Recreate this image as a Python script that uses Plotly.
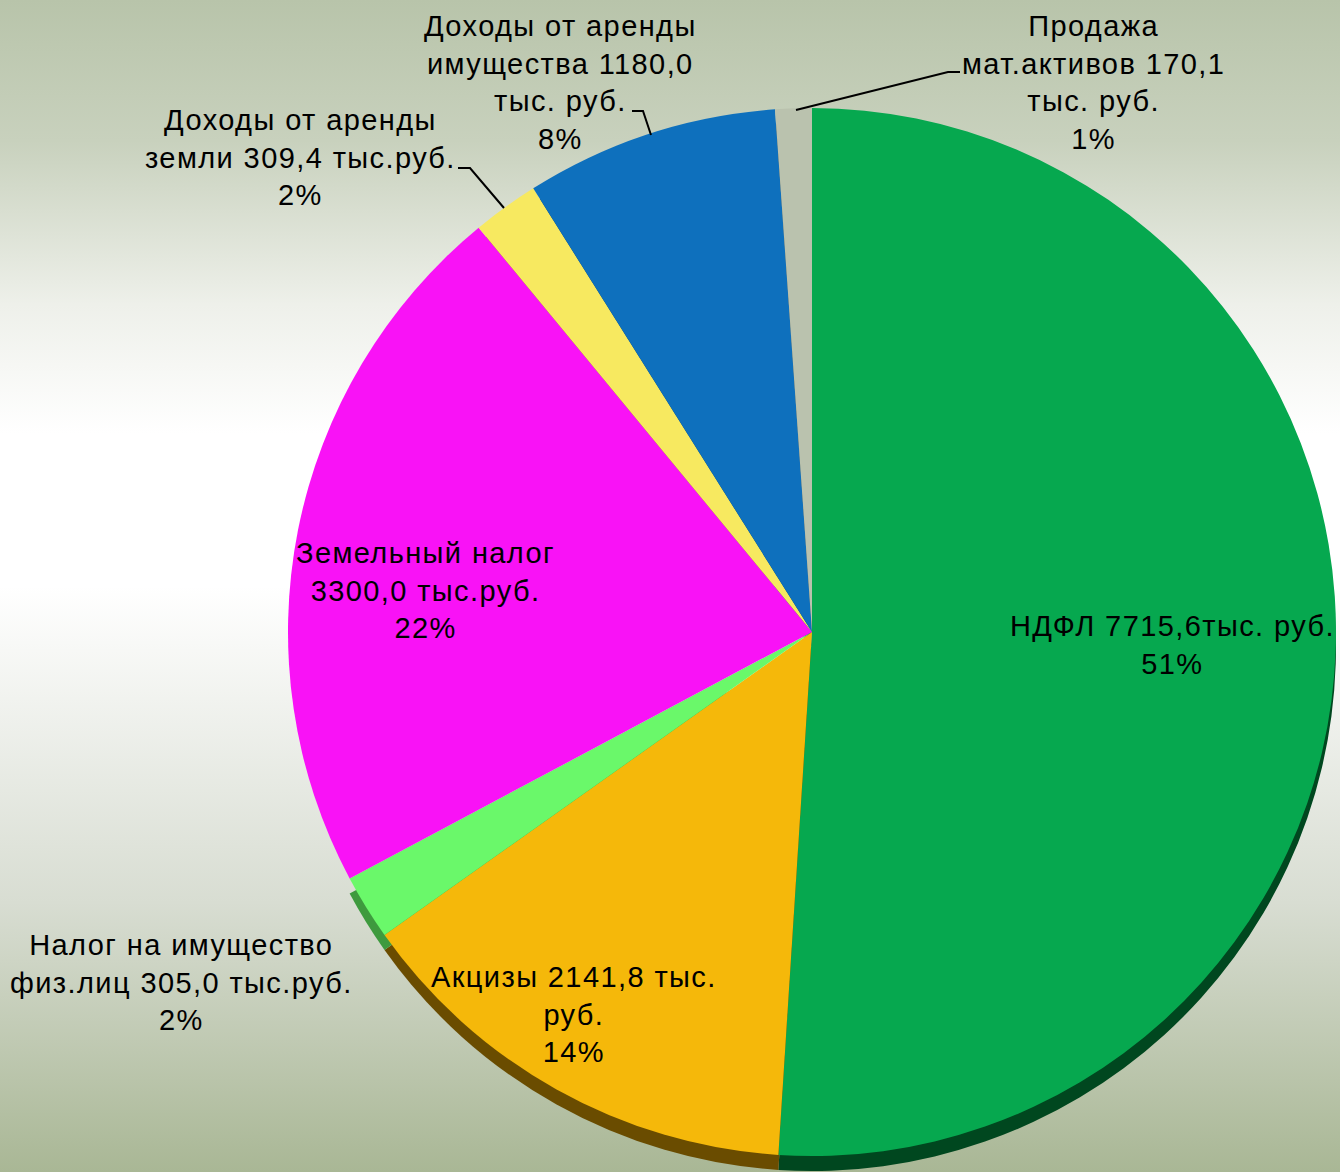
import base64
import plotly.graph_objects as go

W, H = 1340, 1172

# ---------------- data ----------------
categories = [
    "НДФЛ",
    "Акцизы",
    "Налог на имущество физ.лиц",
    "Земельный налог",
    "Доходы от аренды земли",
    "Доходы от аренды имущества",
    "Продажа мат.активов",
]
values = [7715.6, 2141.8, 305.0, 3300.0, 309.4, 1180.0, 170.1]
label_templates = [
    "НДФЛ {v}тыс. руб.<br>{p}%",
    "Акцизы {v} тыс.<br>руб.<br>{p}%",
    "Налог на имущество<br>физ.лиц {v} тыс.руб.<br>{p}%",
    "Земельный налог<br>{v} тыс.руб.<br>{p}%",
    "Доходы от аренды<br>земли {v} тыс.руб.<br>{p}%",
    "Доходы от аренды<br>имущества {v}<br>тыс. руб.<br>{p}%",
    "Продажа<br>мат.активов {v}<br>тыс. руб.<br>{p}%",
]
colors = ["#06A84F", "#F5B80A", "#6AF86A", "#F912F6", "#F7E960", "#0E70BD", "#BAC2AE"]
rim_colors = ["#00471F", "#6A4C00", "#3E9A3E", "rgba(0,0,0,0)", "#7A7020", "#063A66", "#6A7060"]

# label centres (pixels) and leader lines (pixels)
label_pos = [(1172, 645), (574, 1014), (182, 982), (425, 590), (300, 157), (560, 82), (1093, 82)]
leaders = [
    None, None, None, None,
    [(458, 168), (470, 168), (504, 208)],
    [(632, 111), (643, 111), (651, 135)],
    [(796, 110), (948, 72), (960, 72)],
]


def px(x):
    return x / W


def py(y):
    return 1 - y / H


total = sum(values)
texts = []
for v, t in zip(values, label_templates):
    vs = f"{v:.1f}".replace(".", ",")
    p = round(v / total * 100)
    body = t.format(v=vs, p=p)
    lines = body.split("<br>")
    texts.append("<br>".join(f'<span style="letter-spacing:1.4px">{ln}</span>' for ln in lines))

# pie geometry (pixels)
cx, cy, r, depth = 812, 632, 524, 15
dom_x = [px(cx - r), min(1.0, px(cx + r))]
dom_y = [py(cy + r), py(cy - r)]
rim_y = [max(0.0, py(cy + r + depth)), py(cy - r + depth)]

fig = go.Figure()
# 3D rim: darker pie shifted down, behind
fig.add_trace(go.Pie(
    labels=categories, values=values, sort=False, direction="clockwise", rotation=0,
    marker=dict(colors=rim_colors, line=dict(width=0)),
    textinfo="none", hoverinfo="skip", showlegend=False,
    domain=dict(x=dom_x, y=rim_y),
))
fig.add_trace(go.Pie(
    labels=categories, values=values, sort=False, direction="clockwise", rotation=0,
    marker=dict(colors=colors, line=dict(width=0)),
    textinfo="none", showlegend=False,
    domain=dict(x=dom_x, y=dom_y),
))

font = dict(family="Liberation Sans, Arial, sans-serif", size=29, color="#000000")
for t, (x, y) in zip(texts, label_pos):
    fig.add_annotation(x=px(x), y=py(y), xref="paper", yref="paper", text=t,
                       showarrow=False, xanchor="center", yanchor="middle",
                       align="center", font=font)

for ld in leaders:
    if ld:
        path = "M " + " L ".join(f"{px(x)},{py(y)}" for x, y in ld)
        fig.add_shape(type="path", path=path, xref="paper", yref="paper",
                      line=dict(color="#000000", width=2))

svg = f'''<svg xmlns="http://www.w3.org/2000/svg" width="{W}" height="{H}" preserveAspectRatio="none">
<defs><linearGradient id="g" x1="0" y1="0" x2="0" y2="1">
<stop offset="0" stop-color="#B8C4AA"/>
<stop offset="0.12" stop-color="#C8D1BD"/>
<stop offset="0.26" stop-color="#EEF0EA"/>
<stop offset="0.37" stop-color="#FFFFFF"/>
<stop offset="0.50" stop-color="#FFFFFF"/>
<stop offset="0.77" stop-color="#D8DDD2"/>
<stop offset="1" stop-color="#A9B795"/>
</linearGradient></defs>
<rect x="0" y="0" width="{W}" height="{H}" fill="url(#g)"/></svg>'''
src = "data:image/svg+xml;base64," + base64.b64encode(svg.encode()).decode()
fig.add_layout_image(source=src, xref="paper", yref="paper", x=0, y=1,
                     sizex=1, sizey=1, sizing="stretch", xanchor="left",
                     yanchor="top", layer="below")

fig.update_layout(
    width=W, height=H, margin=dict(l=0, r=0, t=0, b=0),
    paper_bgcolor="#E4E8DE", plot_bgcolor="rgba(0,0,0,0)",
    showlegend=False,
)

fig.write_html("out.html", config={"displayModeBar": False},
               post_script="document.body.style.margin='0';document.body.style.overflow='hidden';")
